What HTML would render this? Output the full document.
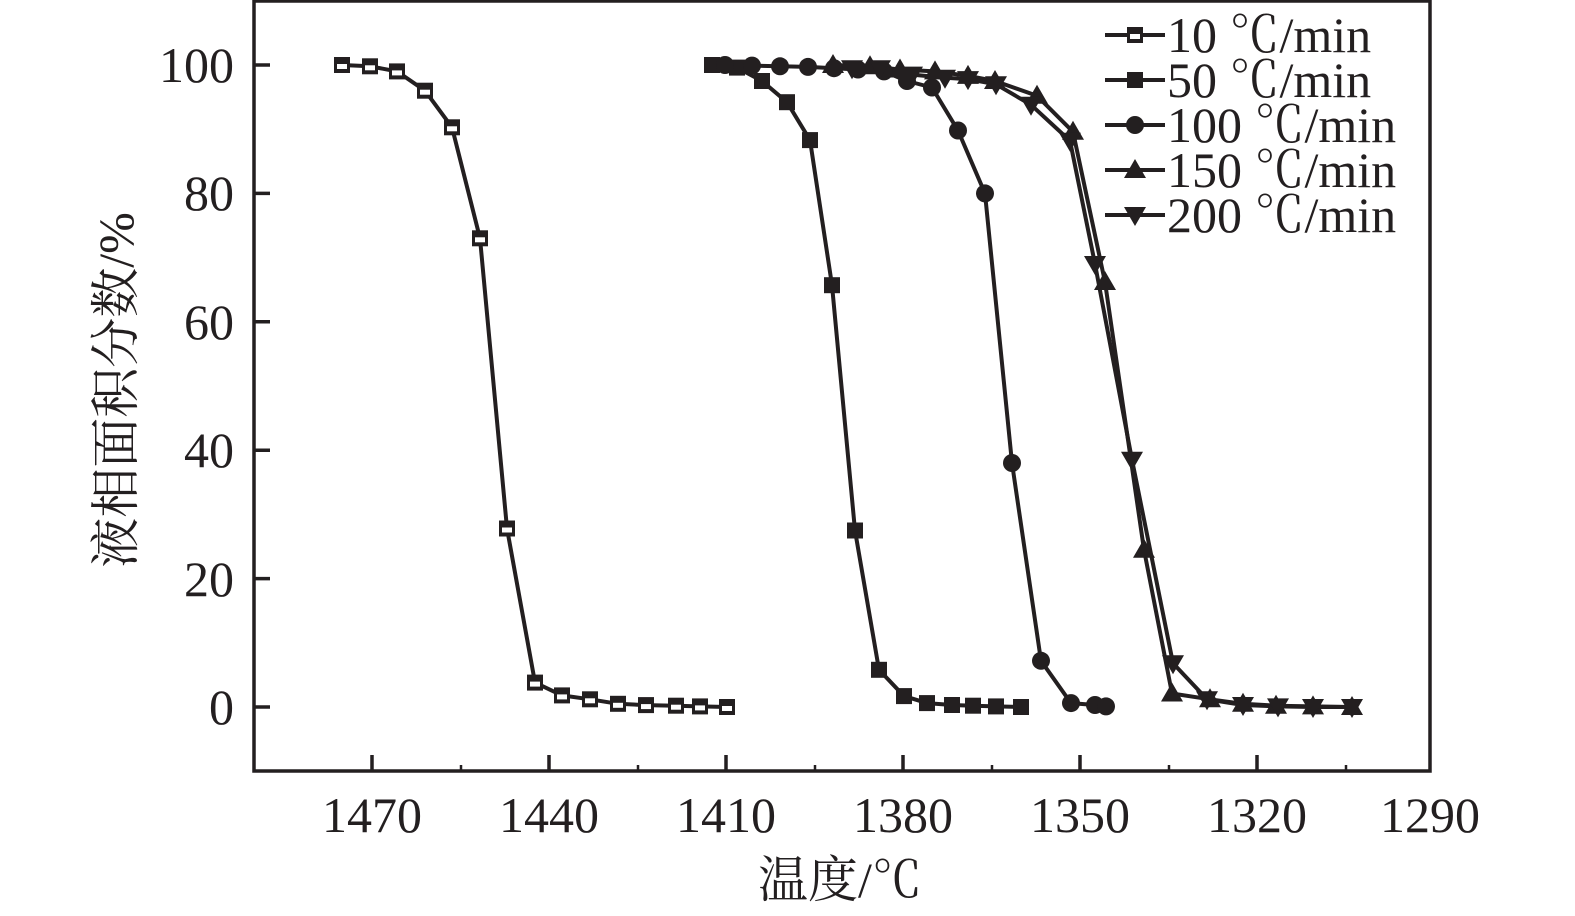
<!DOCTYPE html>
<html><head><meta charset="utf-8"><style>
html,body{margin:0;padding:0;background:#fff;}
svg{display:block;}
text{font-family:'Liberation Serif','Noto Serif CJK SC',serif;fill:#231f20;}
</style></head><body>
<svg width="1575" height="916" viewBox="0 0 1575 916" xmlns="http://www.w3.org/2000/svg">
<defs>
<g id="sq"><rect x="-8" y="-8" width="16" height="16" fill="#231f20"/><rect x="-5" y="-1" width="10" height="5" fill="#fff"/></g>
<rect id="fs" x="-8" y="-8" width="16" height="16" fill="#231f20"/>
<circle id="ci" r="9" fill="#231f20"/>
<polygon id="tu" points="0,-11 11,8 -11,8" fill="#231f20"/>
<polygon id="td" points="0,11 11,-8 -11,-8" fill="#231f20"/>
</defs>
<g stroke="#231f20" stroke-width="3.5" fill="none">
<rect x="254" y="1" width="1176" height="770"/>
<path d="M254,65h16M254,193.4h16M254,321.8h16M254,450.2h16M254,578.6h16M254,707h16"/>
<path d="M372,771v-16M549,771v-16M726,771v-16M903,771v-16M1080,771v-16M1257,771v-16"/>
<path d="M461,771v-6M638,771v-6M815,771v-6M992,771v-6M1169,771v-6M1346,771v-6" stroke-width="2.5"/>
</g>
<g font-size="50" text-anchor="end" font-family="Liberation Serif, serif">
<text x="234" y="82">100</text><text x="234" y="210">80</text><text x="234" y="339">60</text>
<text x="234" y="467">40</text><text x="234" y="596">20</text><text x="234" y="724">0</text>
</g>
<g font-size="50" text-anchor="middle" font-family="Liberation Serif, Noto Serif CJK SC, serif">
<text x="372" y="832">1470</text><text x="549" y="832">1440</text><text x="726" y="832">1410</text>
<text x="903" y="832">1380</text><text x="1080" y="832">1350</text><text x="1257" y="832">1320</text><text x="1430" y="832">1290</text>
<text x="840" y="897">温度/℃</text>
<text transform="translate(133,390) rotate(-90)">液相面积分数/%</text>
</g>
<g stroke="#231f20" stroke-width="4" fill="none" stroke-linejoin="round">
<polyline points="342,65 370,66.3 397,71.4 425,90.7 452,127.3 480,238.3 507,528.5 535,682.6 562,695.4 590,699.3 618,703.8 646,705.1 676,705.7 700,706.4 727,707"/>
<polyline points="712,65 737,67.6 762,81 787,102.2 810,140.1 832,285.2 855,530.5 879,669.8 904,696.1 927,703.1 952,705 973,705.7 996,706.4 1021,707"/>
<polyline points="725,65 752,65.6 780,66.3 808,66.9 834,68.2 858,69.5 884,71.4 907,81 932,87.5 958,130.5 985,193.4 1012,463 1041,660.8 1071,703.1 1095,705 1106,706.4"/>
<polyline points="833,65 870,66.3 900,69.5 935,71.4 968,75.9 995,81 1037,95.8 1073,131.8 1105,282 1144,549.7 1172,693.5 1210,699.3 1243,703.8 1276,705.7 1313,706.4 1352,707"/>
<polyline points="852,68.2 880,68.2 912,74.6 945,77.8 968,79.1 996,84.3 1031,104.8 1070,140.8 1095,264 1132,459.8 1173,663.3 1207,699.3 1243,705 1278,706.4 1313,707 1352,707"/>
<path d="M1105,35h60M1105,80h60M1105,125h60M1105,170h60M1105,215h60"/>
</g>
<g>
<use href="#sq" x="342" y="65"/><use href="#sq" x="370" y="66.3"/><use href="#sq" x="397" y="71.4"/><use href="#sq" x="425" y="90.7"/><use href="#sq" x="452" y="127.3"/><use href="#sq" x="480" y="238.3"/><use href="#sq" x="507" y="528.5"/><use href="#sq" x="535" y="682.6"/><use href="#sq" x="562" y="695.4"/><use href="#sq" x="590" y="699.3"/><use href="#sq" x="618" y="703.8"/><use href="#sq" x="646" y="705.1"/><use href="#sq" x="676" y="705.7"/><use href="#sq" x="700" y="706.4"/><use href="#sq" x="727" y="707"/>
<use href="#fs" x="712" y="65"/><use href="#fs" x="737" y="67.6"/><use href="#fs" x="762" y="81"/><use href="#fs" x="787" y="102.2"/><use href="#fs" x="810" y="140.1"/><use href="#fs" x="832" y="285.2"/><use href="#fs" x="855" y="530.5"/><use href="#fs" x="879" y="669.8"/><use href="#fs" x="904" y="696.1"/><use href="#fs" x="927" y="703.1"/><use href="#fs" x="952" y="705"/><use href="#fs" x="973" y="705.7"/><use href="#fs" x="996" y="706.4"/><use href="#fs" x="1021" y="707"/>
<use href="#ci" x="725" y="65"/><use href="#ci" x="752" y="65.6"/><use href="#ci" x="780" y="66.3"/><use href="#ci" x="808" y="66.9"/><use href="#ci" x="834" y="68.2"/><use href="#ci" x="858" y="69.5"/><use href="#ci" x="884" y="71.4"/><use href="#ci" x="907" y="81"/><use href="#ci" x="932" y="87.5"/><use href="#ci" x="958" y="130.5"/><use href="#ci" x="985" y="193.4"/><use href="#ci" x="1012" y="463"/><use href="#ci" x="1041" y="660.8"/><use href="#ci" x="1071" y="703.1"/><use href="#ci" x="1095" y="705"/><use href="#ci" x="1106" y="706.4"/>
<use href="#tu" x="833" y="65"/><use href="#tu" x="870" y="66.3"/><use href="#tu" x="900" y="69.5"/><use href="#tu" x="935" y="71.4"/><use href="#tu" x="968" y="75.9"/><use href="#tu" x="995" y="81"/><use href="#tu" x="1037" y="95.8"/><use href="#tu" x="1073" y="131.8"/><use href="#tu" x="1105" y="282"/><use href="#tu" x="1144" y="549.7"/><use href="#tu" x="1172" y="693.5"/><use href="#tu" x="1210" y="699.3"/><use href="#tu" x="1243" y="703.8"/><use href="#tu" x="1276" y="705.7"/><use href="#tu" x="1313" y="706.4"/><use href="#tu" x="1352" y="707"/>
<use href="#td" x="852" y="68.2"/><use href="#td" x="880" y="68.2"/><use href="#td" x="912" y="74.6"/><use href="#td" x="945" y="77.8"/><use href="#td" x="968" y="79.1"/><use href="#td" x="996" y="84.3"/><use href="#td" x="1031" y="104.8"/><use href="#td" x="1070" y="140.8"/><use href="#td" x="1095" y="264"/><use href="#td" x="1132" y="459.8"/><use href="#td" x="1173" y="663.3"/><use href="#td" x="1207" y="699.3"/><use href="#td" x="1243" y="705"/><use href="#td" x="1278" y="706.4"/><use href="#td" x="1313" y="707"/><use href="#td" x="1352" y="707"/>
<use href="#sq" x="1135" y="35"/><use href="#fs" x="1135" y="80"/><use href="#ci" x="1135" y="125"/><use href="#tu" x="1135" y="170"/><use href="#td" x="1135" y="215"/>
</g>
<g font-size="50" font-family="Liberation Serif, Noto Serif CJK SC, serif">
<text x="1167" y="52">10 ℃/min</text><text x="1167" y="97">50 ℃/min</text><text x="1167" y="142">100 ℃/min</text>
<text x="1167" y="187">150 ℃/min</text><text x="1167" y="232">200 ℃/min</text>
</g>
</svg>
</body></html>
